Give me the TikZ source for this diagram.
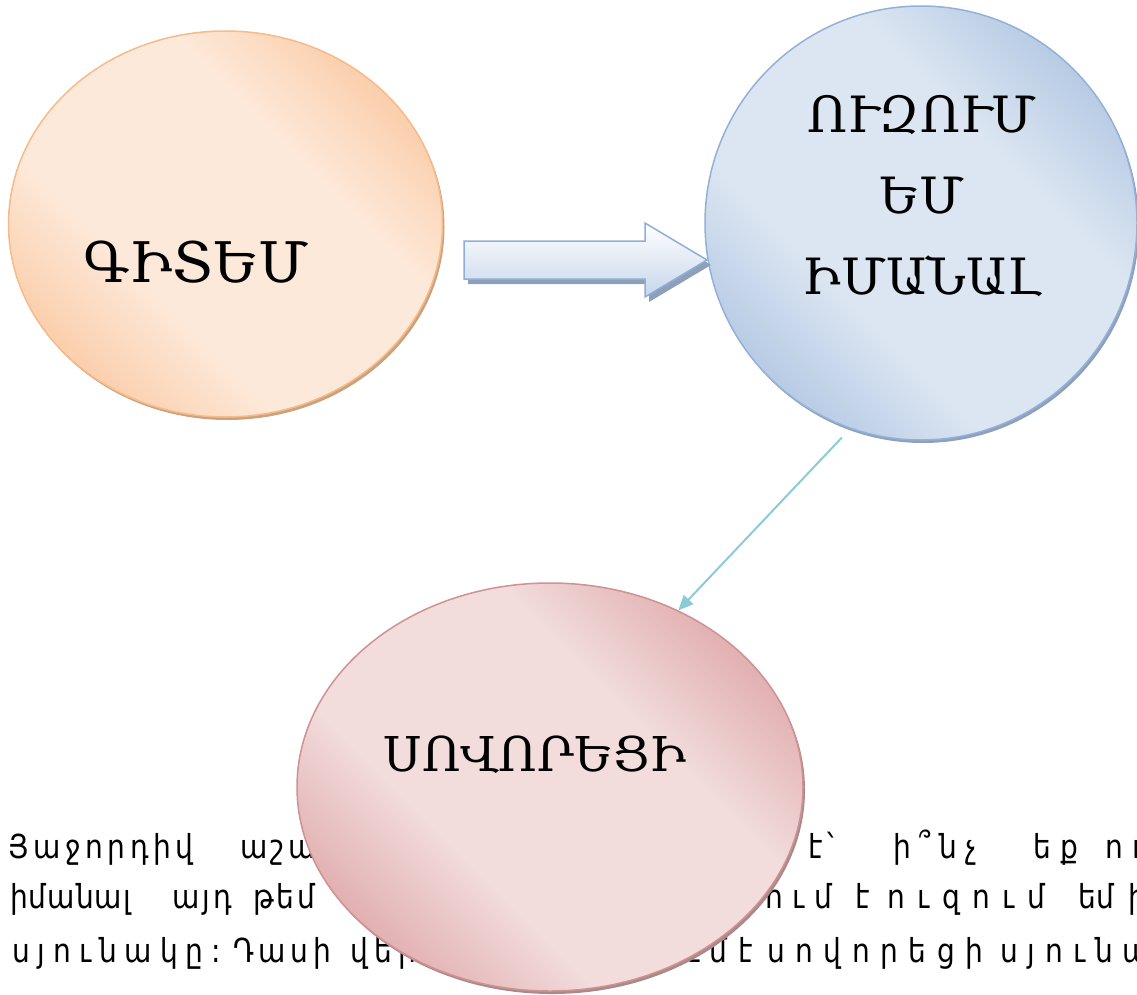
\documentclass[tikz,border=0pt]{standalone}
\usepackage{fontspec}
\usetikzlibrary{shapes.geometric,arrows.meta,shadows}
\newfontfamily\armserif{DejaVu Serif}
\newfontfamily\armsans[FakeStretch=0.85]{DejaVu Sans}
\definecolor{orLight}{HTML}{FDE9DA}
\definecolor{orDark}{HTML}{F9C59B}
\definecolor{orBorder}{HTML}{F7BA88}
\definecolor{orShadow}{HTML}{C9A27F}
\definecolor{blLight}{HTML}{DCE6F2}
\definecolor{blDark}{HTML}{A9C1DF}
\definecolor{blBorder}{HTML}{93B1D8}
\definecolor{blShadow}{HTML}{8EA1BA}
\definecolor{rdLight}{HTML}{F2DCDC}
\definecolor{rdDark}{HTML}{DCA0A2}
\definecolor{rdBorder}{HTML}{D09192}
\definecolor{rdShadow}{HTML}{A98A8B}
\definecolor{connCol}{HTML}{8CCAD8}
\definecolor{arBottom}{HTML}{C7D6EB}
\definecolor{arBorder}{HTML}{8EAEDB}
\definecolor{arShadow}{HTML}{8E9FB8}
\pgfdeclareverticalshading{orshade}{100bp}{color(0bp)=(orDark); color(20bp)=(orDark); color(38bp)=(orLight); color(62bp)=(orLight); color(80bp)=(orDark); color(100bp)=(orDark)}
\pgfdeclareverticalshading{blshade}{100bp}{color(0bp)=(blDark); color(20bp)=(blDark); color(38bp)=(blLight); color(62bp)=(blLight); color(80bp)=(blDark); color(100bp)=(blDark)}
\pgfdeclareverticalshading{rdshade}{100bp}{color(0bp)=(rdDark); color(20bp)=(rdDark); color(38bp)=(rdLight); color(62bp)=(rdLight); color(80bp)=(rdDark); color(100bp)=(rdDark)}
\begin{document}
\begin{tikzpicture}[x=1pt,y=-1pt,
  bub/.style={ellipse, inner sep=0pt, line width=1.5pt},
  orbub/.style={bub, draw=orBorder, shading=orshade, shading angle=-45,
    drop shadow={shadow xshift=2pt, shadow yshift=-3pt, fill=orShadow, opacity=1}},
  blbub/.style={bub, draw=blBorder, shading=blshade, shading angle=-45,
    drop shadow={shadow xshift=2pt, shadow yshift=-3pt, fill=blShadow, opacity=1}},
  rdbub/.style={bub, draw=rdBorder, shading=rdshade, shading angle=-45,
    drop shadow={shadow xshift=2pt, shadow yshift=-3pt, fill=rdShadow, opacity=1}},
  lbl/.style={inner sep=0pt, text=black},
  blockarrow/.style={draw=arBorder, line width=1.5pt, line join=miter, top color=white, bottom color=arBottom,
    drop shadow={shadow xshift=4pt, shadow yshift=-5pt, fill=arShadow, opacity=1}},
  conn/.style={draw=connCol, line width=2pt, -{Triangle[length=15pt,width=13pt]}},
  btxt/.style={anchor=base west, inner sep=0pt, text=black, font=\armsans\addfontfeature{LetterSpace=#1}\fontsize{33}{40}\selectfont},
  btxt/.default=14
]
\useasboundingbox (0,0) rectangle (1137,995);

% bubbles
\node[orbub, minimum width=434pt, minimum height=386pt] (know) at (225.5,224) {};
\node[blbub, minimum width=432pt, minimum height=434pt] (want) at (921,223) {};

% block arrow
\path[blockarrow] (464,241) -- (645,241) -- (645,223) -- (707,260) -- (645,297) -- (645,279) -- (464,279) -- cycle;

% labels
\node[lbl, font=\armserif\fontsize{56}{60}\selectfont] (tknow) at (196,262) {ԳԻՏԵՄ};
\node[lbl, align=center, font=\armserif\fontsize{50}{81}\selectfont] (twant) at (922,196) {ՈՒԶՈՒՄ\\ԵՄ\\ԻՄԱՆԱԼ};

% body text (behind the red bubble)
\node[btxt=14] (w11) at (8,858) {Յաջորդիվ};
\node[btxt=10] (w12) at (240,858) {աշա};
\node[btxt=14] (w13) at (808,858) {է՝};
\node[btxt=26] (w14) at (893,858) {ի՞նչ};
\node[btxt=30] (w15) at (1033,858) {եք};
\node[btxt=30] (w16) at (1105,858) {ու};
\node[btxt=3] (w21) at (10,908) {իմանալ};
\node[btxt=9] (w22) at (172,908) {այդ};
\node[btxt=9] (w23) at (253,908) {թեմ};
\node[btxt=30] (w24) at (765,908) {ում};
\node[btxt=14] (w25) at (855,908) {է};
\node[btxt=38] (w26) at (887,908) {ուզում};
\node[btxt=0] (w27) at (1078,908) {եմ};
\node[btxt=14] (w28) at (1128,908) {իմ};
\node[btxt=24] (w31) at (12,962) {սյունակը:};
\node[btxt=14] (w32) at (233,962) {Դասի};
\node[btxt=20] (w33) at (350,962) {վեր};
\node[btxt=30] (w34) at (660,962) {ում};
\node[btxt=14] (w35) at (738,962) {է};
\node[btxt=32] (w36) at (767,962) {սովորեցի};
\node[btxt=30] (w37) at (1000,962) {սյունակ};

% red bubble
\node[rdbub, minimum width=506pt, minimum height=408pt] (learned) at (550,787) {};
\draw[conn, shorten <=12pt] (want.251) -- (learned.54);
\node[lbl, font=\armserif\fontsize{48}{60}\selectfont] (tlearned) at (535,755) {ՍՈՎՈՐԵՑԻ};
\end{tikzpicture}
\end{document}
